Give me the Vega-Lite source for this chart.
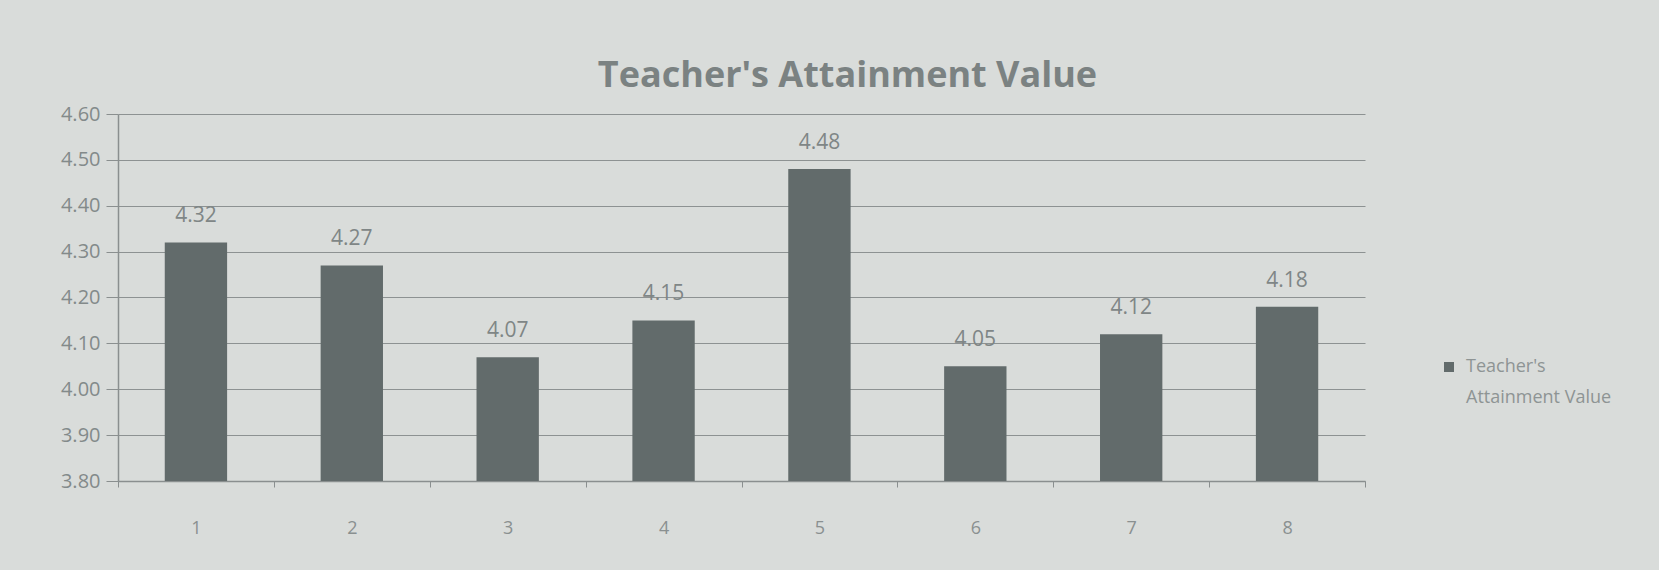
{
  "$schema": "https://vega.github.io/schema/vega-lite/v6.json",
  "width": 1247,
  "height": 367,
  "autosize": {"type": "none"},
  "padding": {"left": 118, "top": 114, "right": 294, "bottom": 89},
  "background": "#d9dcda",
  "title": {
    "text": "Teacher's Attainment Value",
    "font": "Open Sans",
    "fontSize": 36,
    "fontWeight": "bold",
    "color": "#7b8282",
    "anchor": "middle",
    "dx": 106,
    "offset": 9
  },
  "config": {
    "view": {"stroke": null},
    "font": "Open Sans"
  },
  "data": {
    "values": [
      {"item": "1", "value": 4.32, "series": "Teacher's Attainment Value"},
      {"item": "2", "value": 4.27, "series": "Teacher's Attainment Value"},
      {"item": "3", "value": 4.07, "series": "Teacher's Attainment Value"},
      {"item": "4", "value": 4.15, "series": "Teacher's Attainment Value"},
      {"item": "5", "value": 4.48, "series": "Teacher's Attainment Value"},
      {"item": "6", "value": 4.05, "series": "Teacher's Attainment Value"},
      {"item": "7", "value": 4.12, "series": "Teacher's Attainment Value"},
      {"item": "8", "value": 4.18, "series": "Teacher's Attainment Value"}
    ]
  },
  "encoding": {
    "x": {
      "field": "item",
      "type": "ordinal",
      "scale": {"paddingInner": 0, "paddingOuter": 0},
      "axis": {
        "title": null,
        "labelAngle": 0,
        "labelFontSize": 18,
        "labelColor": "#8a9090",
        "labelPadding": 32,
        "domainColor": "#8a8f8f",
        "domainWidth": 1.5,
        "ticks": true,
        "tickBand": "extent",
        "tickSize": 6,
        "tickColor": "#8a8f8f"
      }
    },
    "y": {
      "field": "value",
      "type": "quantitative",
      "scale": {"domain": [3.8, 4.6], "zero": false},
      "axis": {
        "title": null,
        "values": [3.8, 3.9, 4.0, 4.1, 4.2, 4.3, 4.4, 4.5, 4.6],
        "format": ".2f",
        "labelFontSize": 20,
        "labelColor": "#838a8a",
        "labelPadding": 6,
        "tickSize": 12,
        "tickColor": "#8a8f8f",
        "domainColor": "#8a8f8f",
        "domainWidth": 1.5,
        "gridColor": "#8d9292",
        "gridWidth": 1.2
      }
    }
  },
  "layer": [
    {
      "mark": {"type": "bar", "clip": true, "width": {"band": 0.4}},
      "encoding": {
        "color": {
          "field": "series",
          "type": "nominal",
          "scale": {"range": ["#626b6b"]},
          "legend": {
            "title": null,
            "orient": "none",
            "legendX": 1322,
            "legendY": 244,
            "symbolType": "square",
            "symbolSize": 100,
            "labelFontSize": 18,
            "labelColor": "#8e9494",
            "labelExpr": "['Teacher\\'s', 'Attainment Value']",
            "labelLimit": 300,
            "labelOffset": 8,
            "encode": {"labels": {"update": {"lineHeight": {"value": 31}}}}
          }
        }
      }
    },
    {
      "mark": {"type": "text", "dy": -26, "fontSize": 21, "color": "#7f8686", "baseline": "middle"},
      "encoding": {
        "text": {"field": "value", "type": "quantitative", "format": ".2f"}
      }
    }
  ]
}
